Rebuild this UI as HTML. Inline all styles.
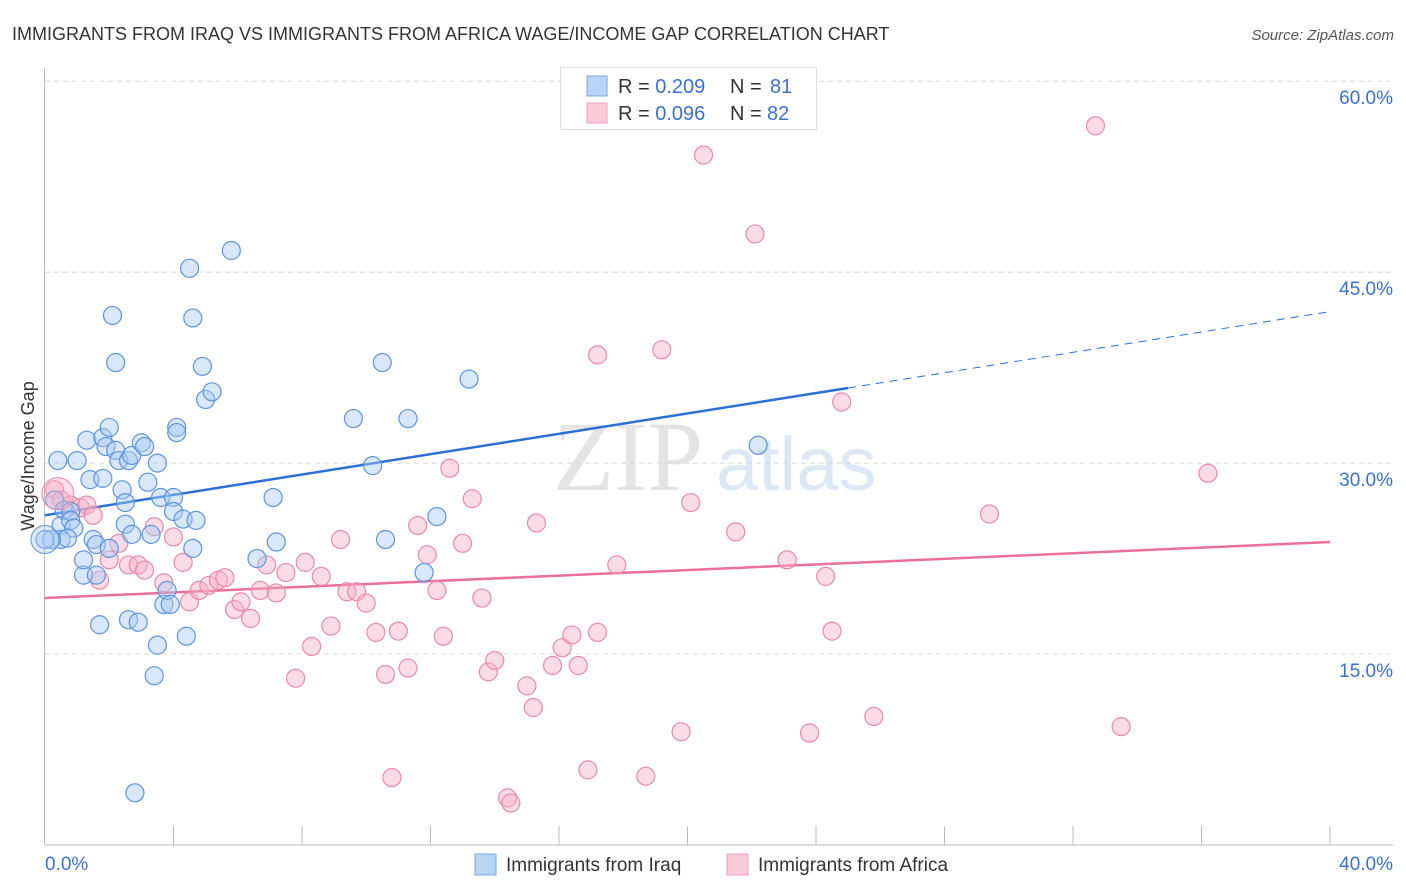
<!DOCTYPE html>
<html><head><meta charset="utf-8"><style>
body{margin:0;background:#fff;font-family:"Liberation Sans",sans-serif}
svg{display:block}
</style></head><body>
<svg id="chart" width="1406" height="892" xmlns="http://www.w3.org/2000/svg">
<text x="12" y="40" font-size="18" fill="#333">IMMIGRANTS FROM IRAQ VS IMMIGRANTS FROM AFRICA WAGE/INCOME GAP CORRELATION CHART</text>
<text x="1394" y="40" font-size="15" fill="#555" font-style="italic" text-anchor="end">Source: ZipAtlas.com</text>
<g>
<text x="553" y="490" font-family="Liberation Serif,serif" font-size="100" fill="#e4e4e4">ZIP</text>
<text x="716" y="490" font-size="76" fill="#dde8f6">atlas</text>
</g>
<g id="grid"></g>
<g id="axes"></g>
<g id="lines"></g>
<g id="pts"></g>
<g>
<rect x="560.5" y="67.5" width="256" height="62" fill="#fff" stroke="#ddd"/>
<rect x="587" y="76" width="20" height="20" fill="#b9d4f5" stroke="#7aa8e0"/>
<rect x="587" y="103" width="20" height="20" fill="#fbcad9" stroke="#eea0bb"/>
<text x="618" y="93" font-size="20" fill="#333">R = <tspan fill="#3a70d0">0.209</tspan><tspan x="730">N = </tspan><tspan x="770" fill="#3a70d0">81</tspan></text>
<text x="618" y="120" font-size="20" fill="#333">R = <tspan fill="#3a70d0">0.096</tspan><tspan x="730">N = </tspan><tspan x="767" fill="#3a70d0">82</tspan></text>
</g>
<g>
<rect x="475" y="854" width="21" height="21" fill="#b9d4f5" stroke="#7aa8e0"/>
<text x="506" y="871" font-size="19" fill="#333">Immigrants from Iraq</text>
<rect x="727" y="854" width="21" height="21" fill="#fbcad9" stroke="#eea0bb"/>
<text x="758" y="871" font-size="19" fill="#333">Immigrants from Africa</text>
</g>
<text transform="translate(34,456) rotate(-90)" font-size="18" fill="#333" text-anchor="middle">Wage/Income Gap</text>
</svg>
<script>
const yTicks=[15,30,45,60];
const yTickLabels=["15.0%","30.0%","45.0%","60.0%"];
const xEndLabels=["0.0%","40.0%"];
const iraqX=[0.3,0.4,0.5,0.5,0.6,0.8,0.8,0.9,0.7,0.2,1.0,1.2,1.2,1.3,1.4,1.5,1.6,1.6,1.7,1.8,1.8,1.9,2.0,2.0,2.1,2.2,2.2,2.3,2.4,2.5,2.5,2.6,2.6,2.7,2.7,2.8,2.9,3.0,3.1,3.2,3.3,3.4,3.5,3.5,3.6,3.7,3.8,3.9,4.0,4.0,4.1,4.1,4.3,4.4,4.5,4.6,4.6,4.7,4.9,5.0,5.2,5.8,6.6,7.1,7.2,9.6,10.2,10.5,10.6,11.3,11.8,12.2,13.2,22.2,0.0];
const iraqY=[27.1,30.2,25.1,24.0,26.3,26.2,25.5,24.9,24.1,24.0,30.2,21.2,22.4,31.8,28.7,24.0,21.2,23.6,17.3,28.8,32.0,31.3,23.3,32.8,41.6,31.0,37.9,30.2,27.9,26.9,25.2,30.2,17.7,24.4,30.6,4.1,17.5,31.6,31.3,28.5,24.4,13.3,30.0,15.7,27.3,18.9,20.0,18.9,27.3,26.2,32.8,32.4,25.6,16.4,45.3,23.3,41.4,25.5,37.6,35.0,35.6,46.7,22.5,27.3,23.8,33.5,29.8,37.9,24.0,33.5,21.4,25.8,36.6,31.4,24.0];
const africaX=[0.3,0.5,0.8,1.1,1.3,1.5,1.7,2.0,2.3,2.6,2.9,3.1,3.4,3.7,4.0,4.3,4.5,4.8,5.1,5.4,5.6,5.9,6.1,6.4,6.7,6.9,7.2,7.5,7.8,8.1,8.3,8.6,8.9,9.2,9.4,9.7,10.0,10.3,10.6,10.8,11.0,11.3,11.6,11.9,12.2,12.4,12.6,13.0,13.3,13.6,13.8,14.0,14.4,14.5,15.0,15.2,15.3,15.8,16.1,16.4,16.6,16.9,17.2,17.2,17.8,18.7,19.2,19.8,20.1,20.5,21.5,22.1,23.1,23.8,24.3,24.5,24.8,25.8,29.4,32.7,33.5,36.2];
const africaY=[27.9,27.1,26.7,26.5,26.7,25.9,20.8,22.4,23.7,22.0,22.0,21.6,25.0,20.6,24.2,22.2,19.1,20.0,20.4,20.8,21.0,18.5,19.1,17.8,20.0,22.0,19.8,21.4,13.1,22.2,15.6,21.1,17.2,24.0,19.9,19.9,19.0,16.7,13.4,5.3,16.8,13.9,25.1,22.8,20.0,16.4,29.6,23.7,27.2,19.4,13.6,14.5,3.7,3.3,12.5,10.8,25.3,14.1,15.5,16.5,14.1,5.9,38.5,16.7,22.0,5.4,38.9,8.9,26.9,54.2,24.6,48.0,22.4,8.8,21.1,16.8,34.8,10.1,26.0,56.5,9.3,29.2];
const iraqTrend=[25.9,41.9];
const africaTrend=[19.4,23.8];
const NS="http://www.w3.org/2000/svg";
const X=v=>45+v/40*1285, Y=v=>845-v*12.73;
function mk(tag,attrs,parent){const e=document.createElementNS(NS,tag);for(const k in attrs)e.setAttribute(k,attrs[k]);document.getElementById(parent).appendChild(e);return e;}
yTicks.forEach((t,i)=>{
 const g=mk('line',{x1:45,x2:1393,y1:Y(t),y2:Y(t),stroke:'#d8d8d8','stroke-dasharray':'5,4'},'grid');
 
 
 const l=mk('text',{x:1393,y:Y(t)+23,'font-size':19,fill:'#3a70d0','text-anchor':'end'},'axes');
 l.textContent=yTickLabels[i];
 
 
});
const ax=mk('line',{x1:45,x2:1393,y1:845,y2:845,stroke:'#bbb'},'axes');


const ay=mk('line',{x1:44.5,x2:44.5,y1:68,y2:845,stroke:'#bbb'},'axes');


for(let v=4;v<=40;v+=4){
 const t=mk('line',{x1:X(v),x2:X(v),y1:826,y2:845,stroke:'#bbb'},'axes');
 
 
}
[[0,'start'],[40,'end']].forEach((p,i)=>{
 const t=mk('text',{x:i?1393:45,y:870,'font-size':19,fill:'#3a70d0','text-anchor':p[1]},'axes');
 t.textContent=xEndLabels[i];
 
 
});
function pts(xs,ys,fill,stroke,name){
 xs.forEach((x,i)=>{
  const c=mk('circle',{cx:X(x),cy:Y(ys[i]),r:9,fill:fill,'fill-opacity':0.45,stroke:stroke,'stroke-width':1.2},'pts');
  
  
 });
}
pts(africaX,africaY,'#f7b0c8','#e88aaa','point-africa');
pts(iraqX,iraqY,'#a9c9f1','#5d95dc','point-iraq');
const big=mk('circle',{cx:X(0.4),cy:Y(27.6),r:16,fill:'#f7b0c8','fill-opacity':0.4,stroke:'#e88aaa'},'pts');


const big2=mk('circle',{cx:X(0),cy:Y(24.0),r:14,fill:'#a9c9f1','fill-opacity':0.4,stroke:'#5d95dc'},'pts');


const slopeI=(iraqTrend[1]-iraqTrend[0])/40;
const ti=mk('line',{x1:X(0),y1:Y(iraqTrend[0]),x2:X(25),y2:Y(iraqTrend[0]+slopeI*25),stroke:'#2a6fd6','stroke-width':2.5},'lines');


const td=mk('line',{x1:X(25),y1:Y(iraqTrend[0]+slopeI*25),x2:X(40),y2:Y(iraqTrend[1]),stroke:'#2a6fd6','stroke-width':1,'stroke-dasharray':'8,6'},'lines');


const ta=mk('line',{x1:X(0),y1:Y(africaTrend[0]),x2:X(40),y2:Y(africaTrend[1]),stroke:'#e8709a','stroke-width':2.5},'lines');


</script>
</body></html>
